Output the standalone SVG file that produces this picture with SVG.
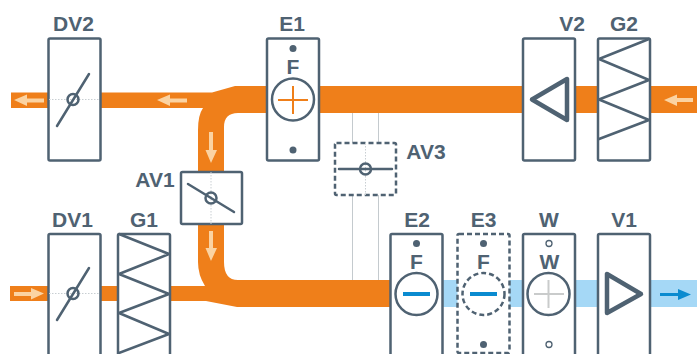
<svg xmlns="http://www.w3.org/2000/svg" width="697" height="354" viewBox="0 0 697 354">
<style>
.b{fill:#fff;stroke:#4f6272;stroke-width:2.500;stroke-linejoin:round}
.d{stroke-dasharray:5 3}
.s{fill:none;stroke:#4f6272;stroke-width:2.500;stroke-linecap:round;stroke-linejoin:round}
.g{fill:none;stroke:#c4cace;stroke-width:1}
.o{fill:none;stroke:#c8ced2;stroke-width:1;stroke-dasharray:1.500 1.500}
.t{font-family:"Liberation Sans",Arial,sans-serif;font-weight:700;font-size:21px;fill:#4f6272;text-anchor:middle}
.dot{fill:#4f6272}
.hole{fill:#fff;stroke:#4f6272;stroke-width:1.300}
.ring{fill:none;stroke:#4f6272;stroke-width:2.500}
.arr{fill:#fbd3a2}
</style>
<g id="connectors">
<path fill="#ef7f1a" d="M11 92.500H212L235 86H523V113H238Q224 113 224 127V172H198V130Q198 115 203 108H11Z"/>
<path fill="#ef7f1a" d="M198 224H224V262Q224 280 238 280H390V307H237L206 301H10V286H205Q198 275 198 262Z"/>
<rect x="575" y="86" width="122" height="27" fill="#ef7f1a"/>
<rect x="442" y="280" width="255" height="27" fill="#a5d8f6"/>
<path class="g" d="M352.500 113V143M378.500 113V143M352.500 195V280M378.500 195V280"/>
<path class="arr" d="M14 100L27 94.500V98.500H44V102.500H27V106Z"/>
<path class="arr" d="M157 100L170 94.500V98.500H187V102.500H170V106Z"/>
<path class="arr" d="M664 100L677 94.500V98H693V102H677V106Z"/>
<path class="arr" d="M211 163L205.500 150H209V132H213V150H217Z"/>
<path class="arr" d="M211 261L205.500 248H209V231H213V248H217Z"/>
<path class="arr" d="M44 293.500L31 288V292H14V296H31V299.500Z"/>
<path fill="#0a8bd0" d="M691 294.500L678 289V293H660V296H678V300Z"/>
</g>
<g id="DV2">
<rect class="b" x="48.500" y="38.500" width="52" height="122" rx="1.500"/>
<path class="o" d="M49 99.500H100"/>
<path class="s" d="M57 126L89 74"/>
<circle class="ring" cx="73" cy="99.500" r="5.500"/>
<text class="t" x="73.500" y="31">DV2</text>
</g>
<g id="E1">
<rect class="b" x="267" y="38.500" width="52" height="122" rx="1.500"/>
<circle class="dot" cx="293" cy="48.500" r="3.500"/>
<circle class="dot" cx="293" cy="150" r="3.500"/>
<text class="t" x="293" y="74">F</text>
<circle class="ring" cx="293" cy="99.500" r="21"/>
<path d="M278 100H308M293 86V114" fill="none" stroke="#ef7f1a" stroke-width="2"/>
<text class="t" x="292" y="31">E1</text>
</g>
<g id="V2">
<rect class="b" x="523" y="38.500" width="52" height="122" rx="1.500"/>
<path d="M567 79V120L532 99.500Z" fill="none" stroke="#4f6272" stroke-width="4.500" stroke-linejoin="round"/>
<text class="t" x="572" y="31">V2</text>
</g>
<g id="G2">
<rect class="b" x="598" y="38.500" width="52" height="122" rx="1.500"/>
<path class="s" d="M649 39L599 59L649 80L599 99.500L649 120L599 139"/>
<text class="t" x="624" y="31">G2</text>
</g>
<g id="AV1">
<rect class="b" x="181" y="172" width="61" height="52" rx="1.500"/>
<path class="o" d="M211 172V224"/>
<path class="s" d="M188 184L234 212"/>
<circle class="ring" cx="211" cy="198" r="5.500"/>
<text class="t" x="155" y="187">AV1</text>
</g>
<g id="AV3">
<rect class="b d" x="335" y="143" width="61" height="52" rx="1.500"/>
<path class="o" d="M365.500 143V195"/>
<path class="s" d="M339 169H392"/>
<circle class="ring" cx="365.500" cy="169" r="5.500"/>
<text class="t" x="426" y="159">AV3</text>
</g>
<g id="DV1">
<rect class="b" x="48.500" y="234" width="52" height="122" rx="1.500"/>
<path class="o" d="M49 293.500H100"/>
<path class="s" d="M57 320L89 268"/>
<circle class="ring" cx="73" cy="293.500" r="5.500"/>
<text class="t" x="72.500" y="227">DV1</text>
</g>
<g id="G1">
<rect class="b" x="118" y="234" width="52" height="122" rx="1.500"/>
<path class="s" d="M119 234L169 254L119 274L169 294L119 313L169 334L119 353"/>
<text class="t" x="144" y="227">G1</text>
</g>
<g id="E2">
<rect class="b" x="390.500" y="234" width="52" height="122" rx="1.500"/>
<circle class="dot" cx="416.500" cy="243.500" r="3.500"/>
<text class="t" x="416.500" y="269">F</text>
<circle class="ring" cx="416.500" cy="294" r="21"/>
<path d="M403 294H430" fill="none" stroke="#0a8bd0" stroke-width="4"/>
<text class="t" x="417" y="227">E2</text>
</g>
<g id="E3">
<rect class="b d" x="457.500" y="234" width="52" height="119" rx="1.500"/>
<circle class="dot" cx="483.500" cy="243.500" r="3.500"/>
<circle class="dot" cx="483.500" cy="344.500" r="3.500"/>
<text class="t" x="483.500" y="269">F</text>
<circle class="ring" cx="483.500" cy="294" r="21" stroke-dasharray="5 3"/>
<path d="M470 294H497" fill="none" stroke="#0a8bd0" stroke-width="4"/>
<text class="t" x="483.500" y="227">E3</text>
</g>
<g id="W">
<rect class="b" x="523" y="234" width="52" height="122" rx="1.500"/>
<circle class="hole" cx="549" cy="243.500" r="3"/>
<circle class="hole" cx="549" cy="344.500" r="3"/>
<text class="t" x="549.500" y="269">W</text>
<circle class="ring" cx="548.500" cy="294" r="21"/>
<path d="M534 294H564M548.500 280V308" fill="none" stroke="#c9cbcb" stroke-width="2"/>
<text class="t" x="549" y="227">W</text>
</g>
<g id="V1">
<rect class="b" x="598" y="234" width="52" height="122" rx="1.500"/>
<path d="M607 274V313L641 294Z" fill="none" stroke="#4f6272" stroke-width="4.500" stroke-linejoin="round"/>
<text class="t" x="624" y="227">V1</text>
</g>
</svg>
